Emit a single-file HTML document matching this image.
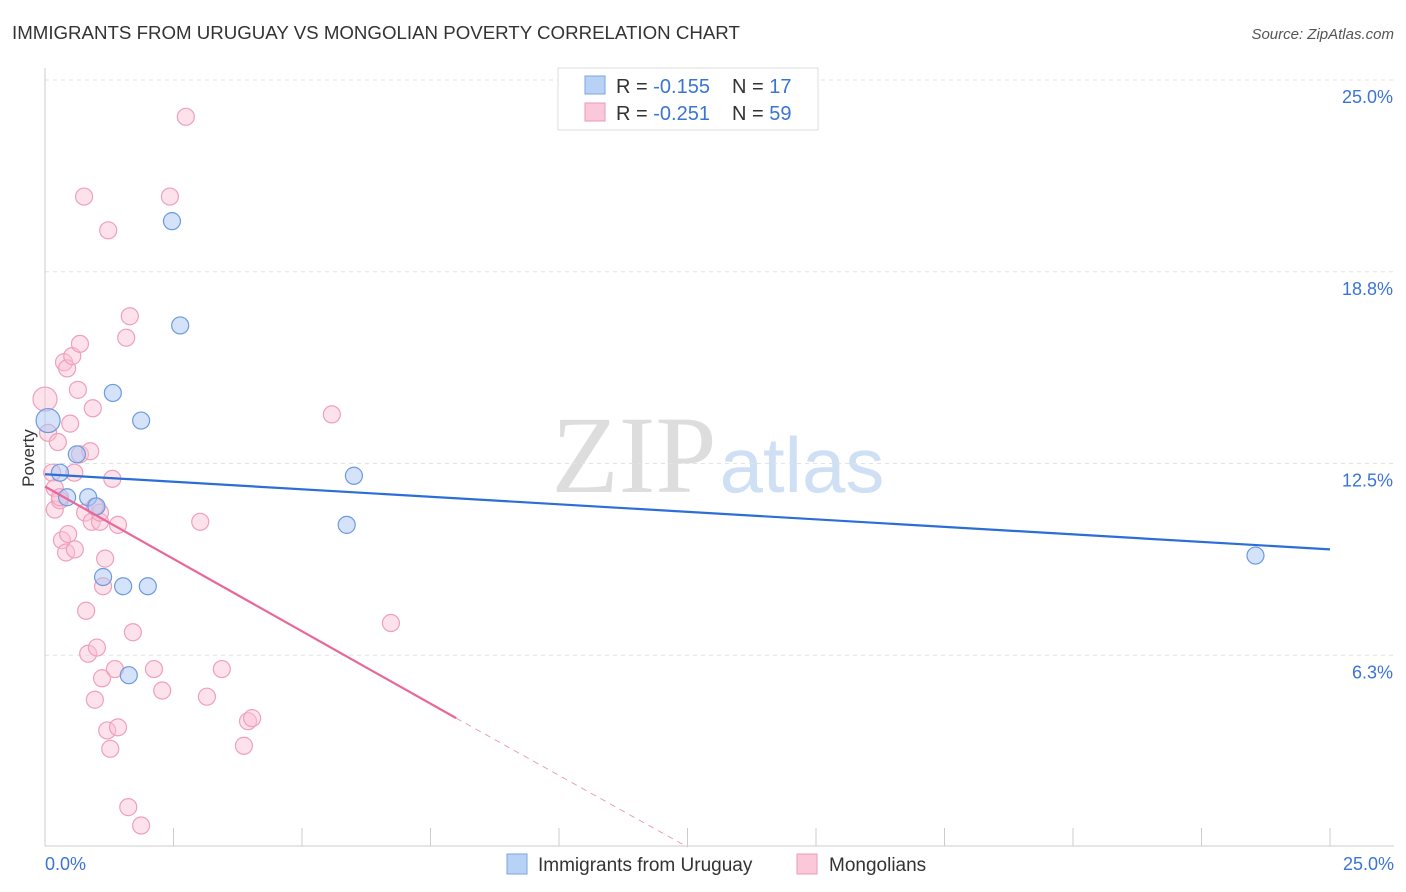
<!DOCTYPE html>
<html><head><meta charset="utf-8"><style>
body{margin:0;background:#fff;font-family:"Liberation Sans",sans-serif;}
svg{display:block}
</style></head><body>
<svg width="1406" height="892" id="c">
<text x="12" y="39" font-size="18.7" fill="#333">IMMIGRANTS FROM URUGUAY VS MONGOLIAN POVERTY CORRELATION CHART</text>
<text x="1394" y="39" font-size="15" fill="#555" font-style="italic" text-anchor="end">Source: ZipAtlas.com</text>
<text x="634" y="492" font-size="110" fill="#ddd" font-family="Liberation Serif" text-anchor="middle">ZIP</text>
<text x="802" y="492" font-size="78" fill="#cfe0f5" text-anchor="middle">atlas</text>
<text x="34" y="458" font-size="17" fill="#333" text-anchor="middle" transform="rotate(-90 34 458)">Poverty</text>
<g id="grid"></g><g id="pts"></g><g id="lines"></g>
<g>
<rect x="558" y="68" width="260" height="62" fill="#fff" stroke="#ddd"/>
<rect x="585" y="76" width="20" height="18" fill="#b8d2f5" stroke="#7aa6e0"/>
<rect x="585" y="103" width="20" height="18" fill="#fac8d8" stroke="#ec9ab6"/>
<text x="616" y="93" font-size="20" fill="#333">R = <tspan fill="#3a74d4">-0.155</tspan><tspan x="732">N = </tspan><tspan fill="#3a74d4">17</tspan></text>
<text x="616" y="120" font-size="20" fill="#333">R = <tspan fill="#3a74d4">-0.251</tspan><tspan x="732">N = </tspan><tspan fill="#3a74d4">59</tspan></text>
</g>
<g>
<rect x="507" y="854" width="20" height="20" fill="#b8d2f5" stroke="#7aa6e0"/>
<text x="538" y="871" font-size="19" fill="#333">Immigrants from Uruguay</text>
<rect x="797" y="854" width="20" height="20" fill="#fac8d8" stroke="#ec9ab6"/>
<text x="829" y="871" font-size="19" fill="#333">Mongolians</text>
</g>
</svg>
<script>
const yTicks=[6.25,12.5,18.75,25];
const yTickLabels=["6.3%","12.5%","18.8%","25.0%"];
const xTickLabels=["0.0%","25.0%"];
const blueX=[0.06,0.29,0.43,0.62,0.84,1.0,1.13,1.32,1.52,1.63,1.87,2.0,2.47,2.63,6.01,5.87,23.55];
const blueY=[13.9,12.2,11.4,12.8,11.4,11.1,8.8,14.8,8.5,5.6,13.9,8.5,20.4,17.0,12.1,10.5,9.5];
const blueR=[12,8.5,8.5,8.5,8.5,8.5,8.5,8.5,8.5,8.5,8.5,8.5,8.5,8.5,8.5,8.5,8.5];
const pinkX=[0.0,0.06,0.14,0.19,0.19,0.25,0.29,0.33,0.37,0.41,0.43,0.45,0.49,0.53,0.57,0.58,0.64,0.68,0.68,0.76,0.78,0.8,0.84,0.88,0.91,0.93,0.97,1.01,1.07,1.07,1.11,1.13,1.17,1.21,1.23,1.27,1.31,1.36,1.42,1.42,1.58,1.62,1.65,1.71,1.87,2.12,2.28,2.43,2.74,3.02,3.15,3.44,3.95,4.03,3.87,5.58,6.73,0.29,0.97];
const pinkY=[14.6,13.5,12.2,11.7,11.0,13.2,11.3,10.0,15.8,9.6,15.6,10.2,13.8,16.0,12.2,9.7,14.9,16.4,12.8,21.2,10.9,7.7,6.3,12.9,10.6,14.3,4.8,6.5,10.6,10.9,5.5,8.5,9.4,3.8,20.1,3.2,12.0,5.8,3.9,10.5,16.6,1.3,17.3,7.0,0.7,5.8,5.1,21.2,23.8,10.6,4.9,5.8,4.1,4.2,3.3,14.1,7.3,11.4,11.1];
const blueLine=[12.15,9.7];
const pinkLine=[11.75,4.2,0];
const pinkLineX=[0,8.0,12.5];
const X=v=>45+v/25*1285, Y=v=>847-v/25*767;
const NS="http://www.w3.org/2000/svg";
function mk(t,a,p){const e=document.createElementNS(NS,t);for(const k in a)e.setAttribute(k,a[k]);p.appendChild(e);return e;}
const g=document.getElementById('grid');
yTicks.forEach((t,i)=>{
 const l=mk('line',{x1:45,x2:1394,y1:Y(t),y2:Y(t),stroke:'#e3e3e3','stroke-dasharray':'4 4'},g);
 
 
 const tx=mk('text',{x:1393,y:Y(t)+23,'font-size':18,fill:'#3a74d4','text-anchor':'end'},g);
 tx.textContent=yTickLabels[i];
 
 
});
const ax=mk('line',{x1:45,x2:45,y1:68,y2:846,stroke:'#ccc'},g);


const bx=mk('line',{x1:45,x2:1394,y1:846,y2:846,stroke:'#ccc'},g);


for(let i=0;i<=10;i++){const t=mk('line',{x1:X(i*2.5),x2:X(i*2.5),y1:828,y2:846,stroke:'#ccc'},g);
 
 }
[[0,'start',45],[25,'end',1394]].forEach((d,i)=>{const t=mk('text',{x:d[2],y:870,'font-size':18,fill:'#3a74d4','text-anchor':d[1]},g);t.textContent=xTickLabels[i];
 
 });
const p=document.getElementById('pts');
pinkX.forEach((x,i)=>{const c=mk('circle',{cx:X(x),cy:Y(pinkY[i]),r:i==0?12:8.5,fill:'rgba(250,190,210,0.45)',stroke:'#eea0bc','stroke-width':1.2},p);
 
 });
blueX.forEach((x,i)=>{const c=mk('circle',{cx:X(x),cy:Y(blueY[i]),r:blueR[i],fill:'rgba(170,200,245,0.5)',stroke:'#6b9ae0','stroke-width':1.2},p);
 
 });
const L=document.getElementById('lines');
const bl=mk('line',{x1:X(0),y1:Y(blueLine[0]),x2:X(25),y2:Y(blueLine[1]),stroke:'#2b6fd6','stroke-width':2.2},L);


const pl=mk('line',{x1:X(pinkLineX[0]),y1:Y(pinkLine[0]),x2:X(pinkLineX[1]),y2:Y(pinkLine[1]),stroke:'#e8689a','stroke-width':2.2},L);


const pd=mk('line',{x1:X(pinkLineX[1]),y1:Y(pinkLine[1]),x2:X(pinkLineX[2]),y2:Y(pinkLine[2]),stroke:'#e8a0bc','stroke-width':1,'stroke-dasharray':'6 5'},L);


</script>
</body></html>
